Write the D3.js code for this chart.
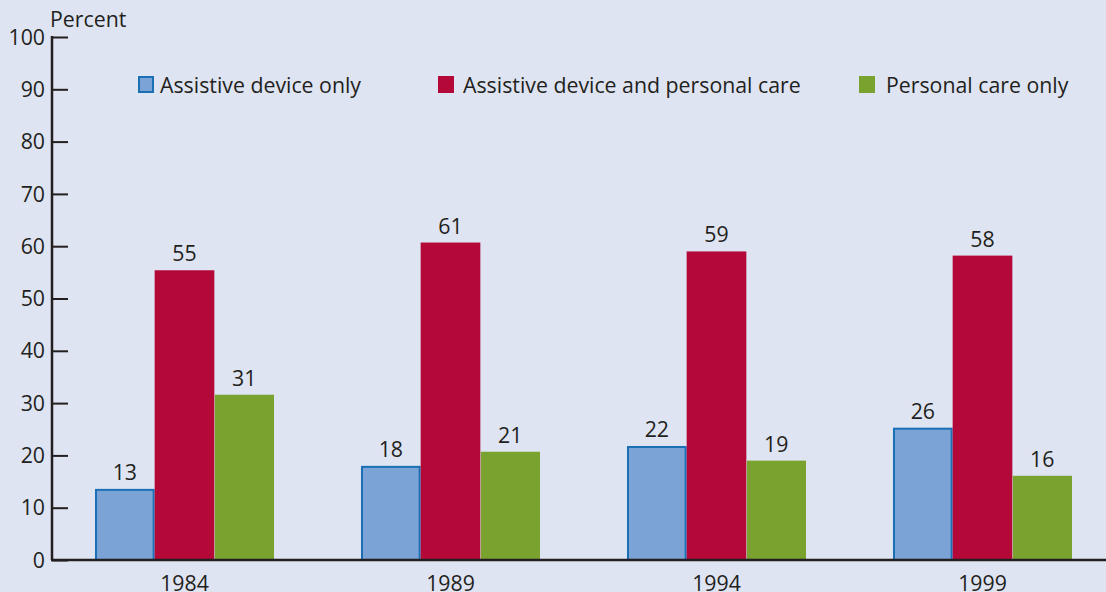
<!DOCTYPE html>
<html>
<head>
<meta charset="utf-8">
<script src="https://cdn.jsdelivr.net/npm/d3@7"></script>
<style>
  html, body { margin: 0; padding: 0; background: #dfe4f2; }
  svg { display: block; font-family: "Open Sans", "Noto Sans", sans-serif; }
</style>
</head>
<body>
<div id="plot"></div>
<script>
// Chart data
const years = ['1984', '1989', '1994', '1999'];
const seriesNames = ['Assistive device only', 'Assistive device and personal care', 'Personal care only'];
const deviceOnly = [13.6, 18, 21.8, 25.3];
const deviceAndCare = [55.4, 60.7, 59, 58.2];
const careOnly = [31.6, 20.7, 19, 16.1];
const deviceOnlyLabels = [13, 18, 22, 26];
const deviceAndCareLabels = [55, 61, 59, 58];
const careOnlyLabels = [31, 21, 19, 16];
const yTicks = [0, 10, 20, 30, 40, 50, 60, 70, 80, 90, 100];

const W = 1106, H = 592;
const colors = ['#7ba3d6', '#b30838', '#79a22f'];
const strokes = ['#1a6fb5', 'none', 'none'];
const fs = '21.3px';

const svg = d3.select('#plot').append('svg').attr('width', W).attr('height', H);
svg.append('rect').attr('width', W).attr('height', H).attr('fill', '#dfe4f2');

const axisX = 52;
const y = d3.scaleLinear().domain([0, 100]).range([560, 37]);
const x0 = d3.scaleBand().domain(years).range([51.5, 1115.5]).paddingInner(0.327).paddingOuter(0.1635);
const x1 = d3.scaleBand().domain(d3.range(3)).range([0, x0.bandwidth()]);

const values = [deviceOnly, deviceAndCare, careOnly];
const labels = [deviceOnlyLabels, deviceAndCareLabels, careOnlyLabels];

const rows = [];
years.forEach((yr, i) => {
  values.forEach((s, k) => rows.push({ year: yr, k, v: s[i], label: labels[k][i] }));
});

// bars
svg.selectAll('rect.bar')
  .data(rows)
  .enter()
  .append('rect')
  .attr('class', 'bar')
  .attr('x', d => x0(d.year) + x1(d.k) + (d.k === 0 ? 1 : d.k === 2 ? 0.5 : 0))
  .attr('y', d => y(d.v) + (d.k === 0 ? 1 : 0))
  .attr('width', d => x1.bandwidth() - (d.k === 0 ? 2 : d.k === 2 ? 0.5 : 0))
  .attr('height', d => y(0) - y(d.v) - (d.k === 0 ? 1 : 0))
  .attr('fill', d => colors[d.k])
  .attr('stroke', d => strokes[d.k])
  .attr('stroke-width', 2);

// value labels
svg.selectAll('text.val')
  .data(rows)
  .enter()
  .append('text')
  .attr('class', 'val')
  .attr('x', d => x0(d.year) + x1(d.k) + x1.bandwidth() / 2)
  .attr('y', d => y(d.v) - 9)
  .attr('text-anchor', 'middle')
  .attr('fill', '#231f20')
  .style('font-size', fs)
  .text(d => d.label);

// y axis
const yAxis = d3.axisRight(y).tickValues(yTicks).tickSize(16).tickFormat('');
const yg = svg.append('g').attr('transform', `translate(${axisX},0)`).call(yAxis);
yg.select('.domain').remove();
yg.selectAll('line').attr('stroke', '#231f20').attr('stroke-width', 2);
svg.append('line').attr('x1', axisX).attr('x2', axisX).attr('y1', y(100) - 1).attr('y2', y(0))
  .attr('stroke', '#231f20').attr('stroke-width', 2.5);

svg.selectAll('text.ytick')
  .data(yTicks)
  .enter()
  .append('text')
  .attr('class', 'ytick')
  .attr('x', 45)
  .attr('y', d => y(d))
  .attr('dy', '0.36em')
  .attr('text-anchor', 'end')
  .attr('fill', '#231f20')
  .style('font-size', fs)
  .text(d => d);

// baseline
svg.append('line').attr('x1', axisX - 1).attr('x2', W).attr('y1', y(0)).attr('y2', y(0))
  .attr('stroke', '#231f20').attr('stroke-width', 2.5);

// x labels (the reference crops them at the bottom edge)
svg.selectAll('text.xlab')
  .data(years)
  .enter()
  .append('text')
  .attr('class', 'xlab')
  .attr('x', d => x0(d) + x0.bandwidth() / 2)
  .attr('y', 591)
  .attr('text-anchor', 'middle')
  .attr('fill', '#231f20')
  .style('font-size', fs)
  .text(d => d);

svg.append('text').attr('x', 50).attr('y', 27).attr('fill', '#231f20')
  .style('font-size', fs).text('Percent');

// legend
const legendX = [138, 438, 859];
const lg = svg.selectAll('g.leg').data(seriesNames).enter().append('g')
  .attr('class', 'leg')
  .attr('transform', (d, i) => `translate(${legendX[i]},76)`);
lg.append('rect')
  .attr('x', (d, i) => i === 0 ? 1 : 0)
  .attr('y', (d, i) => i === 0 ? 1 : 0)
  .attr('width', (d, i) => i === 0 ? 14 : 16)
  .attr('height', (d, i) => i === 0 ? 15 : 17)
  .attr('fill', (d, i) => colors[i])
  .attr('stroke', (d, i) => strokes[i])
  .attr('stroke-width', 2);
lg.append('text')
  .attr('x', (d, i) => i === 2 ? 27 : i === 1 ? 25 : 22)
  .attr('y', 9)
  .attr('dy', '0.36em')
  .attr('fill', '#231f20')
  .style('font-size', fs)
  .text(d => d);
</script>
</body>
</html>
